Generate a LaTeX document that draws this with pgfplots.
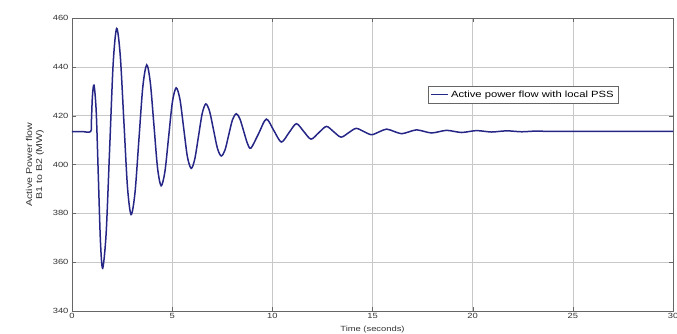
\documentclass[border=0pt]{standalone}
\usepackage{fontspec}
\setmainfont{Liberation Sans}[FakeStretch=1.25]
\usepackage{pgfplots}
\pgfplotsset{compat=1.18}
\definecolor{linec}{RGB}{38,38,135}
\definecolor{gridc}{RGB}{200,200,200}
\begin{document}
\begin{tikzpicture}
\begin{axis}[
  at={(0,0)}, anchor=south west,
  scale only axis, width=601pt, height=293pt,
  xmin=0, xmax=30, ymin=340, ymax=460,
  xtick={0,5,...,30}, ytick={340,360,...,460},
  grid=major, major grid style={gridc, line width=0.6pt},
  axis line style={black!60, line width=0.6pt},
  tick style={black!60},
  tick align=inside,
  /pgf/number format/assume math mode=true,
  tick label style={font=\fontsize{7.5}{8}\selectfont, text=black!80},
  xticklabel style={yshift=1pt},
  xlabel={Time (seconds)},
  xlabel style={font=\fontsize{7.5}{8}\selectfont, yshift=0pt, text=black!80},
  ylabel={Active Power flow\\ B1 to B2 (MW)},
  ylabel style={font=\fontsize{8.5}{10}\selectfont, align=center, text=black!80, yshift=2pt},
  legend style={at={(0.592,0.768)}, anchor=north west, font=\fontsize{9}{10}\selectfont,
    draw=black!60, line width=0.5pt, inner sep=2.5pt, row sep=0pt},
  legend image post style={line width=1.5pt},
  legend cell align=left,
]
\addplot[linec, line width=1.5pt, smooth, tension=0.5] coordinates {
(0,413.5) (0.5,413.5) (0.93,413.5) (0.97,418) (1.02,428) (1.1,432.5)
(1.21,421.5) (1.315,395) (1.42,368.5) (1.53,357.5)
(1.705,371.9) (1.88,406.6) (2.055,441.3) (2.23,455.7)
(2.41,444.5) (2.59,417.6) (2.77,390.7) (2.95,379.5)
(3.145,388.5) (3.34,410.2) (3.535,431.8) (3.73,440.8)
(3.91,433.5) (4.09,416.1) (4.27,398.6) (4.45,391.3)
(4.64,397.2) (4.825,411.4) (5.01,425.5) (5.2,431.4)
(5.39,426.6) (5.575,414.9) (5.76,403.2) (5.95,398.4)
(6.13,402.3) (6.315,411.6) (6.5,420.9) (6.68,424.8)
(6.87,421.7) (7.065,414.2) (7.26,406.6) (7.45,403.5)
(7.64,406.0) (7.825,412.2) (8.01,418.3) (8.2,420.8)
(8.38,418.7) (8.565,413.8) (8.75,408.8) (8.93,406.7)
(9.315,412.65) (9.7,418.6) (10.075,413.9) (10.45,409.2)
(10.825,412.95) (11.2,416.7) (11.565,413.55) (11.93,410.4)
(12.315,413.0) (12.7,415.6) (13.065,413.4) (13.43,411.2)
(13.805,413.0) (14.18,414.8) (14.565,413.5) (14.95,412.2)
(15.325,413.35) (15.7,414.5) (16.075,413.55) (16.45,412.6)
(16.825,413.4) (17.2,414.2) (17.575,413.55) (17.95,412.9)
(18.325,413.45) (18.7,414.0) (19.075,413.55) (19.45,413.1)
(19.825,413.5) (20.2,413.9) (20.575,413.6) (20.95,413.3)
(21.325,413.55) (21.7,413.8) (22.075,413.6) (22.45,413.4)
(22.825,413.55) (23.2,413.7) (23.8,413.55) (25,413.55) (27,413.55) (30,413.55)
};
\addlegendentry{Active power flow with local PSS}
\end{axis}
\pgfresetboundingbox
\path[use as bounding box] (-72pt,-22pt) rectangle (605pt,311pt);
\end{tikzpicture}
\end{document}
